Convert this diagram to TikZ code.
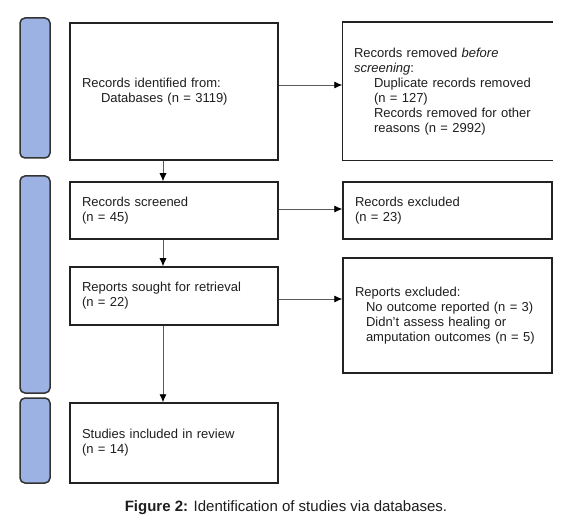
\documentclass[tikz,border=0pt]{standalone}
\usepackage{fontspec}
\setmainfont{Liberation Sans}
\usetikzlibrary{arrows.meta}
\definecolor{barfill}{HTML}{9BB2E2}
\definecolor{bardraw}{HTML}{333333}
\definecolor{boxline}{HTML}{222222}
\definecolor{arrline}{HTML}{5A5A5A}
\definecolor{txt}{HTML}{1E1E1E}
\begin{document}
\begin{tikzpicture}[x=1pt,y=-1pt,
  phase/.style={draw=bardraw, line width=1.5pt, fill=barfill, rounded corners=5pt,
    minimum width=30pt, inner sep=0pt},
  flowbox/.style={draw=boxline, line width=1.5pt, fill=white, minimum width=208pt,
    text width=184pt, inner xsep=12pt, inner ysep=0pt, align=left,
    font=\fontsize{13}{15}\selectfont, text=txt},
  openbox/.style={flowbox, draw=none},
  arr/.style={draw=arrline, line width=0.8pt, -{Latex[length=8pt,width=7pt,color=black]}}
]
\useasboundingbox[fill=white] (0,0) rectangle (587,532);

% phase bars
\node[phase, minimum height=140pt] (bar1) at (35,88) {};
\node[phase, minimum height=217pt] (bar2) at (35,284.5) {};
\node[phase, minimum height=85pt]  (bar3) at (35,440.5) {};

% left column
\node[flowbox, minimum height=137pt] (ident) at (174,91.5)
  {Records identified from:\\\hspace*{19pt}Databases (n = 3119)};
\node[flowbox, minimum height=57pt] (scr) at (174,210.5)
  {Records screened\\(n = 45)};
\node[flowbox, minimum height=58pt] (ret) at (174,296)
  {Reports sought for retrieval\\(n = 22)};
\node[flowbox, minimum height=80pt] (stu) at (174,443)
  {Studies included in review\\(n = 14)};

% right column
\node[openbox, minimum width=209pt, text width=187pt, inner xsep=11pt, minimum height=137pt] (rem) at (447.5,91.5)
  {Records removed \textit{before}\\\textit{screening}:\\
   \hspace*{20pt}Duplicate records removed\\
   \hspace*{20pt}(n = 127)\\
   \hspace*{20pt}Records removed for other\\
   \hspace*{20pt}reasons (n = 2992)};
\draw[draw=boxline, line width=1.5pt] (rem.north east) -- (rem.north west) -- (rem.south west) -- (rem.south east);
\node[flowbox, minimum width=209pt, text width=185pt, inner xsep=12pt, minimum height=57pt] (exc) at (447.5,210.5)
  {Records excluded\\(n = 23)};
\node[flowbox, minimum width=209pt, text width=185pt, inner xsep=12pt, minimum height=115pt] (rex) at (447.5,315.5)
  {Reports excluded:\\
   \hspace*{11pt}No outcome reported (n = 3)\\
   \hspace*{11pt}Didn't assess healing or\\
   \hspace*{11pt}amputation outcomes (n = 5)};

% connectors
\draw[arr] ([xshift=-11pt]ident.south) -- ([xshift=-11pt]scr.north);
\draw[arr] ([xshift=-11pt]scr.south) -- ([xshift=-11pt]ret.north);
\draw[arr] ([xshift=-11pt]ret.south) -- ([xshift=-11pt]stu.north);
\draw[arr] ([yshift=6.5pt]ident.east) -- ([yshift=6.5pt]rem.west);
\draw[arr] ([yshift=1.5pt]scr.east) -- ([yshift=1.5pt]exc.west);
\draw[arr] ([yshift=-3pt]ret.east) -- ([yshift=-3pt]ret.east -| rex.west);

% caption
\node[font=\fontsize{15}{18}\selectfont, text=txt, inner sep=0pt] (cap) at (286,508)
  {\textbf{Figure 2:} Identification of studies via databases.};
\end{tikzpicture}
\end{document}
